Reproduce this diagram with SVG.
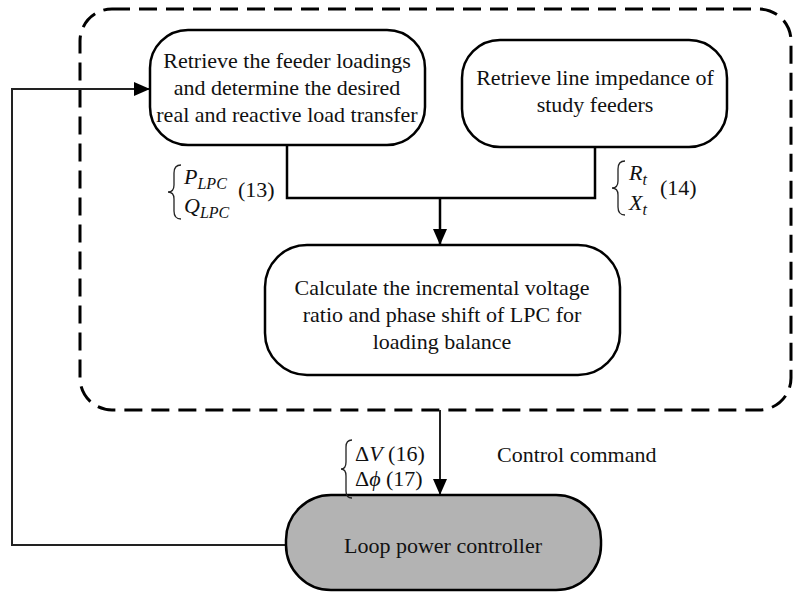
<svg xmlns="http://www.w3.org/2000/svg" width="793" height="599" viewBox="0 0 793 599">
<defs>
<style>
.t{font-family:"Liberation Serif","Times New Roman",serif;font-size:22px;fill:#111}
.i{font-style:italic}
.box{fill:#fff;stroke:#000;stroke-width:2.5}
.ln{fill:none;stroke:#000;stroke-width:2.5}
.fb{fill:none;stroke:#222;stroke-width:2}
.br{fill:none;stroke:#222;stroke-width:1.3}
</style>
<marker id="ah2" markerWidth="16" markerHeight="14" refX="16" refY="7" orient="auto" markerUnits="userSpaceOnUse" viewBox="0 0 16 14">
<path d="M0,0 L16,7 L0,14 Z" fill="#000"/>
</marker>
</defs>
<g id="boundary">
<rect x="80" y="9" width="711" height="401" rx="32" ry="32" fill="none" stroke="#000" stroke-width="3" stroke-dasharray="18 9"/>
</g>
<g id="connectors">
<polyline class="ln" points="287,145 287,198 595,198 595,147"/>
<line class="ln" x1="440" y1="198" x2="440" y2="245" marker-end="url(#ah2)"/>
<line class="fb" x1="440" y1="410" x2="440" y2="495" marker-end="url(#ah2)"/>
<polyline class="fb" points="286,545 12,545 12,89 150,89" marker-end="url(#ah2)"/>
</g>
<g id="node-feeder">
<rect class="box" x="150" y="30" width="275" height="115" rx="38" ry="38"/>
<text class="t" x="287" y="68" text-anchor="middle">Retrieve the feeder loadings</text>
<text class="t" x="287" y="95" text-anchor="middle">and determine the desired</text>
<text class="t" x="287" y="122" text-anchor="middle">real and reactive load transfer</text>
</g>
<g id="node-impedance">
<rect class="box" x="462" y="40" width="265" height="107" rx="38" ry="38"/>
<text class="t" x="595" y="85" text-anchor="middle">Retrieve line impedance of</text>
<text class="t" x="595" y="112" text-anchor="middle">study feeders</text>
</g>
<g id="node-calc">
<rect class="box" x="265" y="245" width="355" height="130" rx="42" ry="42"/>
<text class="t" x="442" y="295" text-anchor="middle">Calculate the incremental voltage</text>
<text class="t" x="442" y="322" text-anchor="middle">ratio and phase shift of LPC for</text>
<text class="t" x="442" y="349" text-anchor="middle">loading balance</text>
</g>
<g id="node-lpc">
<rect x="286" y="495" width="315" height="95" rx="45" ry="45" fill="#b3b3b3" stroke="#000" stroke-width="2.5"/>
<text class="t" x="443" y="553" text-anchor="middle" fill="#222">Loop power controller</text>
</g>
<g id="labels">
<path class="br" d="M181,165 Q174,165 174,173 L174,185 Q174,192 168,192 Q174,192 174,199 L174,211 Q174,219 181,219"/>
<text class="t i" x="184" y="184">P<tspan font-size="16" dy="5">LPC</tspan></text>
<text class="t" x="238" y="197">(13)</text>
<text class="t i" x="184" y="213">Q<tspan font-size="16" dy="5">LPC</tspan></text>
<path class="br" d="M625,161 Q618,161 618,169 L618,181 Q618,188 612,188 Q618,188 618,195 L618,207 Q618,215 625,215"/>
<text class="t i" x="629" y="180">R<tspan font-size="16" dy="5">t</tspan></text>
<text class="t" x="660" y="195">(14)</text>
<text class="t i" x="629" y="210">X<tspan font-size="16" dy="5">t</tspan></text>
<path class="br" d="M352,440 Q346,440 346,447 L346,462 Q346,469 341,469 Q346,469 346,476 L346,491 Q346,498 352,498"/>
<text class="t" x="355" y="461">Δ<tspan class="i">V</tspan> (16)</text>
<text class="t" x="355" y="486">Δ<tspan class="i">ϕ</tspan> (17)</text>
<text class="t" x="497" y="462">Control command</text>
</g>
</svg>
